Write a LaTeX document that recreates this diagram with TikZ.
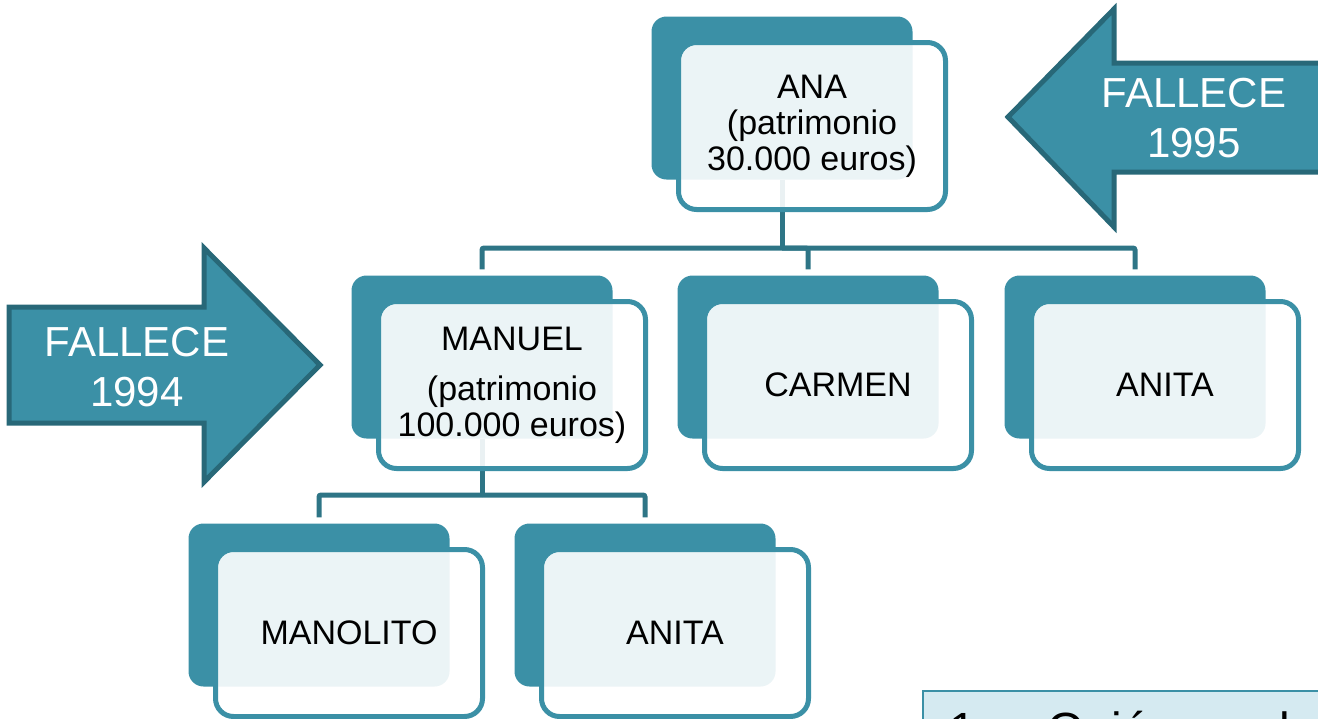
\documentclass[tikz,border=0pt]{standalone}
\usepackage{fontspec}
\setmainfont{Liberation Sans}
\definecolor{azul}{RGB}{59,144,166}
\definecolor{azuloscuro}{RGB}{46,117,134}
\definecolor{borde}{RGB}{40,104,120}
\definecolor{celeste}{RGB}{213,234,241}
\tikzset{
  fondo/.style = {rectangle, rounded corners=15pt, fill=azul, inner sep=0pt,
    minimum width=261pt, minimum height=163pt},
  frente/.style = {rectangle, rounded corners=18pt, draw=azul, line width=5pt,
    fill=white, fill opacity=.9, text opacity=1, text=black, align=center,
    minimum width=267pt, minimum height=167pt,
    font=\fontsize{34}{36}\selectfont},
  rama/.style = {draw=azuloscuro, line width=5pt, rounded corners=2pt},
  flecha/.style = {fill=azul, draw=borde, line width=5pt, line join=miter},
  rotulo/.style = {text=white, align=center, font=\fontsize{42}{50}\selectfont}
}
\newcommand{\caja}[2]{%
  \node[frente] (#1) at ([shift={(30,28)}]#1-b.center) {#2};%
}

\begin{document}
\begin{tikzpicture}[x=1pt, y=-1pt]
  \useasboundingbox (0,0) rectangle (1318,718);
  \clip (0,0) rectangle (1318,718);
  % cajas de fondo
  \node[fondo] (ana-b) at (782,98) {};
  \node[fondo] (manuel-b) at (482,357) {};
  \node[fondo] (carmen-b) at (808,357) {};
  \node[fondo] (anita-b) at (1135,357) {};
  \node[fondo] (manolito-b) at (319,605) {};
  \node[fondo] (anitab-b) at (645,605) {};
  % ramas
  \coordinate (bar1) at (782,248);
  \coordinate (bar2) at (482,495);
  \draw[rama] (ana-b.south) -- (bar1);
  \draw[rama, shorten >=6pt] (bar1) -| (manuel-b.north);
  \draw[rama, shorten >=6pt] (bar1) -| (carmen-b.north);
  \draw[rama, shorten >=6pt] (bar1) -| (anita-b.north);
  \draw[rama] (manuel-b.south) -- (bar2);
  \draw[rama, shorten >=6pt] (bar2) -| (manolito-b.north);
  \draw[rama, shorten >=6pt] (bar2) -| (anitab-b.north);
  % cajas de delante
  \caja{ana}{ANA\\(patrimonio\\30.000 euros)}
  \caja{manuel}{MANUEL\\[14pt](patrimonio\\100.000 euros)}
  \caja{carmen}{CARMEN}
  \caja{anita}{ANITA}
  \caja{manolito}{MANOLITO}
  \caja{anitab}{ANITA}
  % flechas
  \draw[flecha] (9,307) -- (204,307) -- (204,248) -- (320,365) -- (204,482)
    -- (204,423) -- (9,423) -- cycle;
  \node[rotulo] (muere94) at (137,367) {FALLECE\\1994};
  \draw[flecha] (1340,63) -- (1114,63) -- (1114,9) -- (1008,117) -- (1114,227)
    -- (1114,172) -- (1340,172) -- cycle;
  \node[rotulo] (muere95) at (1194,118) {FALLECE\\1995};
  % pregunta
  \draw[fill=celeste, draw=azul, line width=2.5pt] (923,691) rectangle (1340,780);
  \node[anchor=base west, inner sep=0pt, font=\fontsize{48}{56}\selectfont]
    (pregunta) at (949,746) {1.- ¿Quién es el};
\end{tikzpicture}
\end{document}
